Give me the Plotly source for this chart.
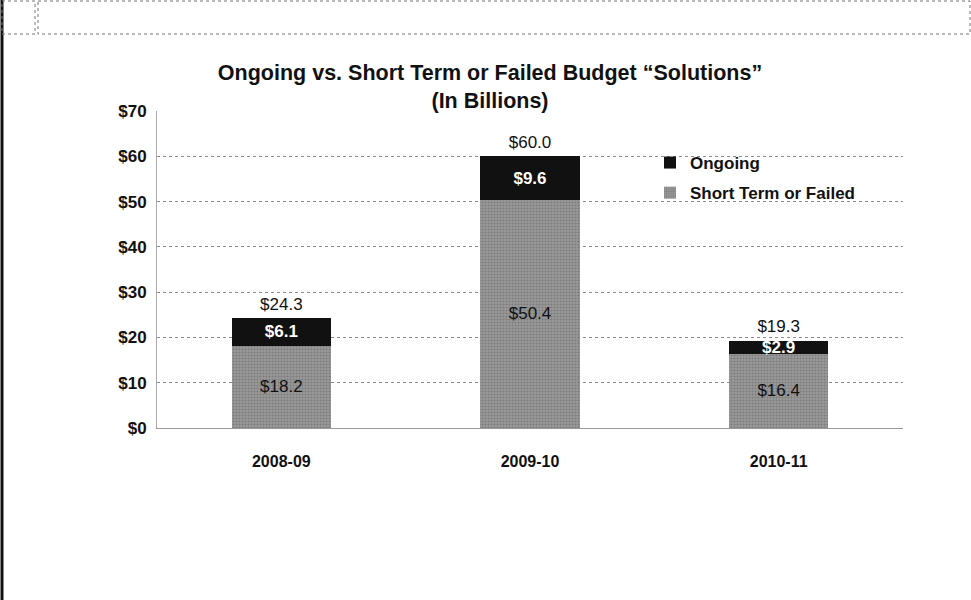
import plotly.graph_objects as go

categories = ["2008-09", "2009-10", "2010-11"]
short_term = [18.2, 50.4, 16.4]
ongoing = [6.1, 9.6, 2.9]
totals = [round(a + b, 1) for a, b in zip(short_term, ongoing)]
y_ticks = [0, 10, 20, 30, 40, 50, 60, 70]
y_tick_labels = ["$" + str(v) for v in y_ticks]

FONT = "Liberation Sans, Arial, sans-serif"

# plot area in pixels (for decorative frame conversion)
L, R, T, B = 157, 903, 111, 428
W, H = 971, 600


def px_x(x):
    return (x - L) / (R - L)


def px_y(y):
    return (B - y) / (B - T)


fig = go.Figure()
fig.add_trace(go.Bar(
    x=categories, y=short_term, name="Short Term or Failed", legendgroup="b", legendrank=2,
    marker=dict(color="#8c8c8c", line=dict(width=0),
                pattern=dict(shape=".", fgcolor="#5a5a5a", bgcolor="#9a9a9a", size=3, solidity=0.4)),
    text=["$%.1f" % v for v in short_term], textposition="inside",
    insidetextanchor="middle", constraintext="none", textangle=0,
    textfont=dict(family=FONT, size=17, color="#111111"),
    width=0.4, hoverinfo="skip",
))
fig.add_trace(go.Bar(
    x=categories, y=ongoing, name="Ongoing", legendgroup="a", legendrank=1,
    marker=dict(color="#111111", line=dict(width=0)),
    text=["$%.1f" % v for v in ongoing], textposition="inside",
    insidetextanchor="middle", constraintext="none", textangle=0,
    textfont=dict(family=FONT, size=17, color="#ffffff", weight="bold"),
    width=0.4, hoverinfo="skip",
))
fig.add_trace(go.Scatter(
    x=categories, y=totals, mode="markers+text",
    marker=dict(size=5, opacity=0),
    text=["$%.1f" % v for v in totals], textposition="top center",
    textfont=dict(family=FONT, size=17, color="#111111"),
    showlegend=False, hoverinfo="skip", cliponaxis=False,
))

shapes = [
    # left heavy border
    dict(type="line", xref="paper", yref="paper", x0=px_x(2), x1=px_x(2), y0=px_y(0), y1=px_y(600),
         line=dict(color="#111111", width=3)),
    # top boxes
    dict(type="rect", xref="paper", yref="paper", x0=px_x(2), x1=px_x(35), y0=px_y(1), y1=px_y(34),
         line=dict(color="#777777", width=1, dash="dot")),
    dict(type="rect", xref="paper", yref="paper", x0=px_x(38), x1=px_x(970), y0=px_y(1), y1=px_y(34),
         line=dict(color="#777777", width=1, dash="dot")),
]

fig.update_layout(
    width=W, height=H,
    barmode="stack",
    paper_bgcolor="white", plot_bgcolor="white",
    margin=dict(l=L, r=W - R, t=T, b=H - B, autoexpand=False),
    title=dict(
        text="Ongoing vs. Short Term or Failed Budget \u201cSolutions\u201d<br>(In Billions)",
        x=(218 + 762) / 2 / W, xanchor="center", yref="container", y=1 - 80 / H, yanchor="top",
        font=dict(family=FONT, size=21.5, color="#111111", weight="bold", lineposition="none"),
    ),
    legend=dict(
        x=px_x(650), y=px_y(145), xanchor="left", yanchor="top",
        traceorder="grouped", bgcolor="rgba(0,0,0,0)",
        font=dict(family=FONT, size=17, color="#111111", weight="bold"),
        itemsizing="constant", tracegroupgap=5, itemwidth=30,
    ),
    xaxis=dict(
        type="category",
        showgrid=False, showline=True, linecolor="#999999", linewidth=1,
        ticks="", tickfont=dict(family=FONT, size=16, color="#111111", weight="bold"),
        ticklabelstandoff=19,
    ),
    yaxis=dict(
        range=[0, 70], tickvals=y_ticks, ticktext=y_tick_labels,
        showgrid=True, gridcolor="#8a8a8a", griddash="dot", gridwidth=1,
        showline=True, linecolor="#aaaaaa", linewidth=1,
        zeroline=False,
        tickfont=dict(family=FONT, size=17, color="#111111", weight="bold"),
        ticks="", ticklabelstandoff=6,
    ),
    shapes=shapes,
    showlegend=True,
)

fig.write_html("out.html", config={"displayModeBar": False},
               post_script="document.body.style.margin='0';")
